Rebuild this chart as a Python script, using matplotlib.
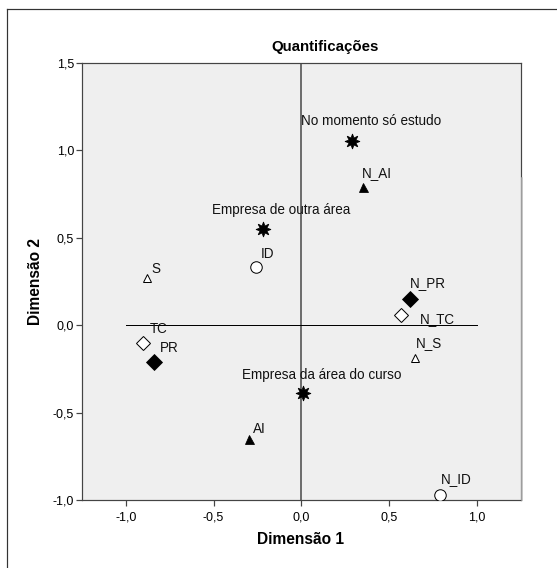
import numpy as np
import matplotlib
matplotlib.use('Agg')
import matplotlib.pyplot as plt
from matplotlib.lines import Line2D

plt.rcParams['font.family'] = ['Liberation Sans', 'DejaVu Sans']

# pontos (quantificações das categorias)
rotulos = ['No momento só estudo', 'Empresa de outra área', 'Empresa da área do curso',
           'AI', 'N_AI', 'S', 'N_S', 'ID', 'N_ID', 'PR', 'N_PR', 'TC', 'N_TC']
dim1 = [0.29, -0.22, 0.01, -0.30, 0.35, -0.88, 0.65, -0.26, 0.79, -0.84, 0.62, -0.90, 0.57]
dim2 = [1.05, 0.55, -0.39, -0.65, 0.79, 0.27, -0.19, 0.33, -0.97, -0.21, 0.15, -0.10, 0.06]

# estilo de cada ponto: marcador, preenchido?, tamanho
marcadores = [(8, 1, 0)] * 3 + ['^', '^', '^', '^', 'o', 'o', 'D', 'D', 'D', 'D']
cheios = [True] * 3 + [True, True, False, False, False, False, True, True, False, False]
tamanhos = [15, 15, 15, 9, 9, 8.5, 8.5, 11.5, 11.5, 11, 11, 10.5, 10.5]
# deslocamento dos rótulos (pontos)
desloc = [(19, 20), (18, 19), (19, 18), (11, 10), (14, 14), (9, 9), (14, 15),
          (12, 13), (16, 16), (15, 14), (18, 16), (15, 14), (36, -4)]

fig = plt.figure(figsize=(557 / 72, 568 / 72), dpi=72)
W, H = 557, 568
ax = fig.add_axes([82 / W, 1 - 500 / H, (520.7 - 82) / W, (500 - 62.7) / H])
ax.set_facecolor('#efefef')

ax.set_xlim(-1.25, 1.25)
ax.set_ylim(-1.0, 1.5)
ax.axvline(0, color='#444444', lw=1.5, zorder=1)
ax.plot([-1, 1], [0, 0], color='black', lw=1, zorder=1)

for x, y, m, f, s, lab, (dx, dy) in zip(dim1, dim2, marcadores, cheios, tamanhos, rotulos, desloc):
    ax.plot(x, y, marker=m, markersize=s, markerfacecolor='black' if f else 'white',
            markeredgecolor='black', markeredgewidth=1 if not f else 0.8, ls='none', zorder=3)
    ax.annotate(lab, (x, y), xytext=(dx, dy), textcoords='offset points',
                ha='center', va='center', fontsize=13.5, color='#111111')

ax.set_xticks([-1.0, -0.5, 0.0, 0.5, 1.0])
ax.set_xticklabels(['-1,0', '-0,5', '0,0', '0,5', '1,0'])
ax.set_yticks([-1.0, -0.5, 0.0, 0.5, 1.0, 1.5])
ax.set_yticklabels(['-1,0', '-0,5', '0,0', '0,5', '1,0', '1,5'])
ax.tick_params(direction='out', length=6, width=1.2, color='#444444', labelsize=12.5, pad=2)
ax.tick_params(axis='x', pad=5)
for sp in ax.spines.values():
    sp.set_color('#444444')
    sp.set_linewidth(1.2)

fig.text(325.5 / W, 1 - 47 / H, 'Quantificações', ha='center', va='center',
         fontsize=15, fontweight='bold')
fig.text(300.5 / W, 1 - 540 / H, 'Dimensão 1', ha='center', va='center',
         fontsize=15.5, fontweight='bold')
fig.text(35 / W, 1 - 281 / H, 'Dimensão 2', ha='center', va='center',
         fontsize=15.5, fontweight='bold', rotation=90)

# moldura externa
fig.add_artist(Line2D([7 / W, 7 / W], [0, 1 - 9 / H], color='#333333', lw=1.2))
fig.add_artist(Line2D([7 / W, 1], [1 - 9 / H, 1 - 9 / H], color='#333333', lw=1.2))
fig.add_artist(Line2D([522 / W, 522 / W], [1 - 500 / H, 1 - 178 / H], color='#bbbbbb', lw=1.5))

fig.savefig('out.png', dpi=72)
